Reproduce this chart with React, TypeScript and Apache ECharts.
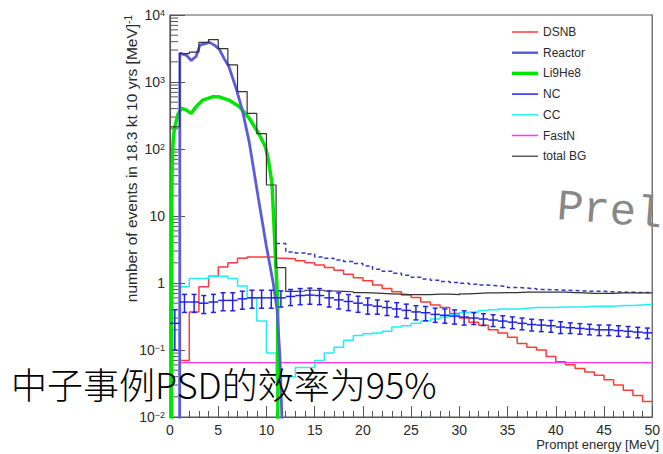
import React, { useEffect, useRef } from "react";
import * as echarts from "echarts";

// Histograms: 1 MeV bins, first bin starts at 0 MeV
const BIN_START = 0;
const BIN_WIDTH = 1;

const dsnb: (number | null)[] = [
  null, 0.07, 0.37, 0.88, 1.26, 1.73, 2.0, 2.35, 2.45, 2.45,
  2.45, 2.35, 2.3, 2.15, 2.0, 1.85, 1.7, 1.55, 1.35, 1.2,
  1.08, 0.93, 0.83, 0.74, 0.66, 0.61, 0.52, 0.47, 0.43, 0.35,
  0.30, 0.26, 0.235, 0.2, 0.18, 0.155, 0.125, 0.11, 0.1, 0.08,
  0.067, 0.06, 0.053, 0.047, 0.042, 0.036, 0.030, 0.025, 0.021, 0.017,
];

const cc: (number | null)[] = [
  null, 0.88, 1.17, 1.17, 1.26, 1.26, 1.17, 0.9, 0.6, 0.27,
  0.09, 0.04, 0.04, 0.055, 0.055, 0.07, 0.09, 0.11, 0.14, 0.165,
  0.175, 0.18, 0.19, 0.22, 0.23, 0.25, 0.27, 0.29, 0.31, 0.34,
  0.36, 0.37, 0.39, 0.4, 0.41, 0.41, 0.42, 0.43, 0.43, 0.43,
  0.44, 0.44, 0.44, 0.45, 0.45, 0.45, 0.46, 0.46, 0.47, 0.48,
];

const totalBG: (number | null)[] = [
  214, 2650, 2800, 3900, 4300, 3150, 1800, 720, 340, 170,
  29, 1.7, 0.75, 0.76, 0.78, 0.78, 0.76, 0.75, 0.74, 0.72,
  0.71, 0.7, 0.69, 0.68, 0.67, 0.67, 0.67, 0.68, 0.68, 0.67,
  0.69, 0.7, 0.71, 0.71, 0.72, 0.72, 0.73, 0.73, 0.73, 0.73,
  0.73, 0.72, 0.71, 0.7, 0.7, 0.7, 0.71, 0.71, 0.71, 0.71,
];

const nc: number[] = [
  0.25, 0.52, 0.52, 0.5, 0.52, 0.55, 0.55, 0.58, 0.6, 0.6,
  0.6, 0.6, 0.63, 0.65, 0.66, 0.65, 0.6, 0.56, 0.53, 0.5,
  0.47, 0.45, 0.43, 0.41, 0.39, 0.37, 0.36, 0.34, 0.33, 0.32,
  0.31, 0.30, 0.29, 0.28, 0.27, 0.26, 0.25, 0.24, 0.235, 0.23,
  0.22, 0.215, 0.21, 0.205, 0.2, 0.2, 0.195, 0.19, 0.185, 0.18,
];

// relative error of each NC bin
const ncRelErr: number[] = [
  0.6, 0.3, 0.3, 0.3, 0.3, 0.3, 0.3, 0.3, 0.3, 0.3,
  0.3, 0.27, 0.27, 0.27, 0.27, 0.27, 0.27, 0.27, 0.27, 0.27,
  0.27, 0.24, 0.24, 0.24, 0.24, 0.24, 0.24, 0.24, 0.24, 0.24,
  0.24, 0.2, 0.2, 0.2, 0.2, 0.2, 0.2, 0.2, 0.2, 0.2,
  0.2, 0.18, 0.18, 0.18, 0.18, 0.18, 0.18, 0.18, 0.18, 0.18,
];

// dashed blue histogram, bins starting at 11 MeV
const DASHED_START = 11;
const dashedBlue: number[] = [
  3.9, 2.9, 2.8, 2.7, 2.45, 2.35, 2.2, 2.1, 1.95,
  1.8, 1.6, 1.5, 1.4, 1.3, 1.22, 1.15, 1.1, 1.05, 1.02,
  0.99, 0.96, 0.93, 0.91, 0.89, 0.86, 0.84, 0.82, 0.8, 0.79,
  0.78, 0.77, 0.76, 0.75, 0.75, 0.74, 0.73, 0.73, 0.72, 0.72,
];

const FASTN_LEVEL = 0.065;
const FASTN_RANGE = [1, 50];

const reactor: number[][] = [
  [1.0, 0.001], [1.02, 2700], [1.7, 2500], [2.2, 2100], [2.7, 2400], [3.1, 3550],
  [4.1, 3900], [4.6, 3550], [5.1, 3100], [5.6, 2250], [6.1, 1700], [6.8, 850],
  [7.5, 380], [8.2, 130], [9.2, 17], [10.0, 3.5], [10.7, 1.0], [11.1, 0.4],
  [11.4, 0.08], [11.6, 0.01], [11.7, 0.001],
];

const li9he8: number[][] = [
  [0.15, 0.001], [0.17, 10], [0.22, 50], [0.3, 110], [0.4, 170], [0.5, 214],
  [0.85, 340], [1.2, 405], [1.7, 380], [2.2, 340], [2.7, 427], [3.4, 537],
  [4.4, 600], [5.1, 600], [6.1, 537], [7.2, 427], [8.2, 290], [9.2, 170],
  [9.9, 107], [10.2, 69], [10.57, 31], [10.74, 10], [10.9, 3.1], [11.07, 1],
  [11.17, 0.4], [11.2, 0.001],
];

const X_MIN = 0;
const X_MAX = 50;
const Y_MIN = 0.01;
const Y_MAX = 10000;

const legendItems = [
  { name: "DSNB", color: "#ff3b3b", width: 1.5 },
  { name: "Reactor", color: "#5b5bdc", width: 2.5 },
  { name: "Li9He8", color: "#00e600", width: 3.5 },
  { name: "NC", color: "#2323e6", width: 1.5 },
  { name: "CC", color: "#22f0f0", width: 1.5 },
  { name: "FastN", color: "#ff33ff", width: 1.5 },
  { name: "total BG", color: "#333333", width: 1.2 },
];

const FLOOR = 1e-4;

function stepPoints(start: number, vals: (number | null)[]) {
  const pts: number[][] = [];
  vals.forEach((v, i) => {
    const x0 = start + i * BIN_WIDTH;
    const y = v == null ? FLOOR : v;
    pts.push([x0, y], [x0 + BIN_WIDTH, y]);
  });
  return pts;
}

const yMinorTicks: number[][] = [];
for (let k = -2; k <= 3; k++) {
  for (let m = 2; m <= 9; m++) yMinorTicks.push([X_MIN, m * Math.pow(10, k)]);
}

const FONT = "'Liberation Sans', Arial, sans-serif";
const TXT = "#2a2a2a";

function buildOption(): any {
  const lineBase = {
    type: "line",
    showSymbol: false,
    symbol: "none",
    silent: true,
    clip: true,
  };

  const ncColor = "#2323e6";

  const graphics: any[] = [];
  legendItems.forEach((it, i) => {
    const y = 32 + i * 20.7;
    graphics.push({
      type: "line",
      shape: { x1: 512, y1: y, x2: 538, y2: y },
      style: { stroke: it.color, lineWidth: it.width },
      silent: true,
    });
    graphics.push({
      type: "text",
      x: 543,
      y,
      style: {
        text: it.name,
        fill: TXT,
        font: `12px ${FONT}`,
        verticalAlign: "middle",
        align: "left",
      },
      silent: true,
    });
  });

  graphics.push({
    type: "text",
    x: 131,
    y: 15,
    rotation: Math.PI / 2,
    style: {
      text: "number of events in 18.3 kt 10 yrs [MeV]{s|-1}",
      fill: TXT,
      font: `15.5px ${FONT}`,
      align: "right",
      verticalAlign: "middle",
      rich: {
        s: { fontSize: 10, fontFamily: FONT, fill: TXT, verticalAlign: "top", lineHeight: 10 } as any,
      },
    },
    silent: true,
  });

  graphics.push({
    type: "text",
    x: 659,
    y: 444,
    style: {
      text: "Prompt energy [MeV]",
      fill: TXT,
      font: `13px ${FONT}`,
      align: "right",
      verticalAlign: "middle",
    },
    silent: true,
  });

  graphics.push({
    type: "text",
    x: 557,
    y: 207,
    rotation: -0.08,
    style: {
      text: "Prel",
      fill: "#888888",
      font: `44px 'Liberation Mono', 'Courier New', monospace`,
      align: "left",
      verticalAlign: "middle",
    },
    silent: true,
  });

  graphics.push({
    type: "text",
    x: 11,
    y: 383,
    z: 100,
    style: {
      text: "中子事例PSD的效率为95%",
      fill: "#000000",
      font: `300 36px 'Noto Sans CJK SC', sans-serif`,
      lineHeight: 32,
      align: "left",
      verticalAlign: "middle",
    },
    silent: true,
  });

  return {
    animation: false,
    backgroundColor: "#ffffff",
    textStyle: { fontFamily: FONT },
    grid: {
      left: 170,
      top: 15,
      width: 489,
      height: 402,
      show: true,
      borderColor: "#555555",
      borderWidth: 1.2,
      backgroundColor: "transparent",
    },
    xAxis: {
      type: "value",
      min: X_MIN,
      max: X_MAX,
      interval: 5,
      axisLine: { show: true, onZero: false, lineStyle: { color: "#555555", width: 1.2 } },
      axisTick: { show: true, inside: true, length: 11, lineStyle: { color: "#555555" } },
      minorTick: { show: true, splitNumber: 5, length: 6, lineStyle: { color: "#555555" } },
      splitLine: { show: false },
      axisLabel: { color: TXT, fontSize: 14, margin: 6, fontFamily: FONT },
    },
    yAxis: {
      type: "log",
      logBase: 10,
      min: Y_MIN,
      max: Y_MAX,
      splitNumber: 6,
      axisLine: { show: true, lineStyle: { color: "#555555", width: 1.2 } },
      axisTick: { show: true, inside: true, length: 15, lineStyle: { color: "#555555" } },
      splitLine: { show: false },
      axisLabel: {
        margin: 5,
        color: TXT,
        fontFamily: FONT,
        formatter: (v: number) => {
          const e = Math.round(Math.log10(v));
          if (e === 0) return "{b|1}";
          if (e === 1) return "{b|10}";
          return `{b|10}{s|${e < 0 ? "\u2212" + -e : e}}`;
        },
        rich: {
          b: { fontSize: 14, color: TXT, fontFamily: FONT, lineHeight: 14, verticalAlign: "bottom" },
          s: { fontSize: 9, color: TXT, fontFamily: FONT, lineHeight: 9, verticalAlign: "top" },
        },
      },
    },
    graphic: graphics,
    series: [
      {
        type: "custom",
        name: "yMinorTicks",
        silent: true,
        data: yMinorTicks,
        renderItem: (_p: any, api: any) => {
          const p = api.coord([api.value(0), api.value(1)]);
          return {
            type: "line",
            shape: { x1: p[0], y1: p[1], x2: p[0] + 8, y2: p[1] },
            style: { stroke: "#555555", lineWidth: 1 },
          };
        },
        z: 3,
      },
      {
        ...lineBase,
        name: "DSNB",
        data: stepPoints(BIN_START, dsnb),
        lineStyle: { color: "#ff3b3b", width: 1.5 },
        z: 4,
      },
      {
        ...lineBase,
        name: "CC",
        data: stepPoints(BIN_START, cc),
        lineStyle: { color: "#22f0f0", width: 1.5 },
        z: 4,
      },
      {
        ...lineBase,
        name: "FastN",
        data: [
          [FASTN_RANGE[0], FLOOR],
          [FASTN_RANGE[0], FASTN_LEVEL],
          [FASTN_RANGE[1], FASTN_LEVEL],
        ],
        lineStyle: { color: "#ff33ff", width: 1.3 },
        z: 4,
      },
      {
        ...lineBase,
        name: "NC dashed",
        data: stepPoints(DASHED_START, dashedBlue),
        lineStyle: { color: "#3535c8", width: 1.5, type: [4, 3] },
        z: 4,
      },
      {
        ...lineBase,
        name: "Li9He8",
        data: li9he8,
        lineStyle: { color: "#00e600", width: 3.5 },
        z: 5,
      },
      {
        ...lineBase,
        name: "Reactor",
        data: reactor,
        lineStyle: { color: "#5b5bdc", width: 2.8 },
        z: 6,
      },
      {
        ...lineBase,
        name: "total BG",
        data: stepPoints(BIN_START, totalBG),
        lineStyle: { color: "#333333", width: 1.2 },
        z: 7,
      },
      {
        type: "custom",
        name: "NC",
        silent: true,
        z: 8,
        data: nc.map((v, i) => [BIN_START + i * BIN_WIDTH, v, v * ncRelErr[i]]),
        renderItem: (_p: any, api: any) => {
          const x0 = api.value(0);
          const v = api.value(1);
          const e = api.value(2);
          const pl = api.coord([x0, v]);
          const pr = api.coord([x0 + BIN_WIDTH, v]);
          const pt = api.coord([x0 + BIN_WIDTH / 2, v + e]);
          const pb = api.coord([x0 + BIN_WIDTH / 2, v - e]);
          const st = { stroke: ncColor, lineWidth: 1.5 };
          const cap = 2.5;
          return {
            type: "group",
            children: [
              { type: "line", shape: { x1: pl[0], y1: pl[1], x2: pr[0], y2: pr[1] }, style: st },
              { type: "line", shape: { x1: pt[0], y1: pt[1], x2: pb[0], y2: pb[1] }, style: st },
              { type: "line", shape: { x1: pt[0] - cap, y1: pt[1], x2: pt[0] + cap, y2: pt[1] }, style: st },
              { type: "line", shape: { x1: pb[0] - cap, y1: pb[1], x2: pb[0] + cap, y2: pb[1] }, style: st },
            ],
          };
        },
      },
    ],
  };
}

export default function App() {
  const ref = useRef<HTMLDivElement>(null);
  useEffect(() => {
    document.body.style.margin = "0";
    const chart = echarts.init(ref.current!, undefined, { renderer: "svg" });
    chart.setOption(buildOption());
    return () => chart.dispose();
  }, []);
  return <div ref={ref} style={{ width: 663, height: 454 }} />;
}
